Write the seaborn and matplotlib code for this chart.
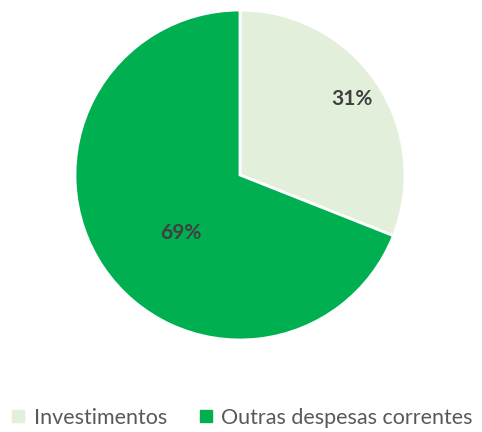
import matplotlib
matplotlib.use("Agg")
import matplotlib.pyplot as plt
from matplotlib.lines import Line2D
import seaborn as sns

sns.set_theme(style="white")
plt.rcParams['font.family'] = ['Lato', 'DejaVu Sans']

# Data
labels = ["Investimentos", "Outras despesas correntes"]
values = [31, 69]
colors = ["#E2EFDA", "#00B050"]

fig = plt.figure(figsize=(4.82, 4.32), dpi=100)
ax = fig.add_axes([0.1556, 0.213, 0.6846, 0.7639])

wedges, texts, autotexts = ax.pie(
    values, colors=colors, startangle=90, counterclock=False,
    autopct=lambda p: f"{p:.0f}%", pctdistance=0.82,
    wedgeprops=dict(edgecolor="white", linewidth=2),
    textprops=dict(fontsize=15, fontweight="bold", color="#404040"),
)
autotexts[1].set_position((-0.36, -0.35))
ax.set_xlim(-1, 1)
ax.set_ylim(-1, 1)
ax.set_aspect("equal")

handles = [Line2D([0], [0], marker="s", linestyle="", markersize=8,
                  markerfacecolor=c, markeredgecolor=c) for c in colors]
fig.legend(handles, labels, loc="lower center", bbox_to_anchor=(0.5, -0.02),
           ncol=2, frameon=False, fontsize=15.5, labelcolor="#595959",
           handletextpad=0.3, columnspacing=1.4, handlelength=0.8,
           borderaxespad=0.2)

fig.savefig("out.png", dpi=100)
